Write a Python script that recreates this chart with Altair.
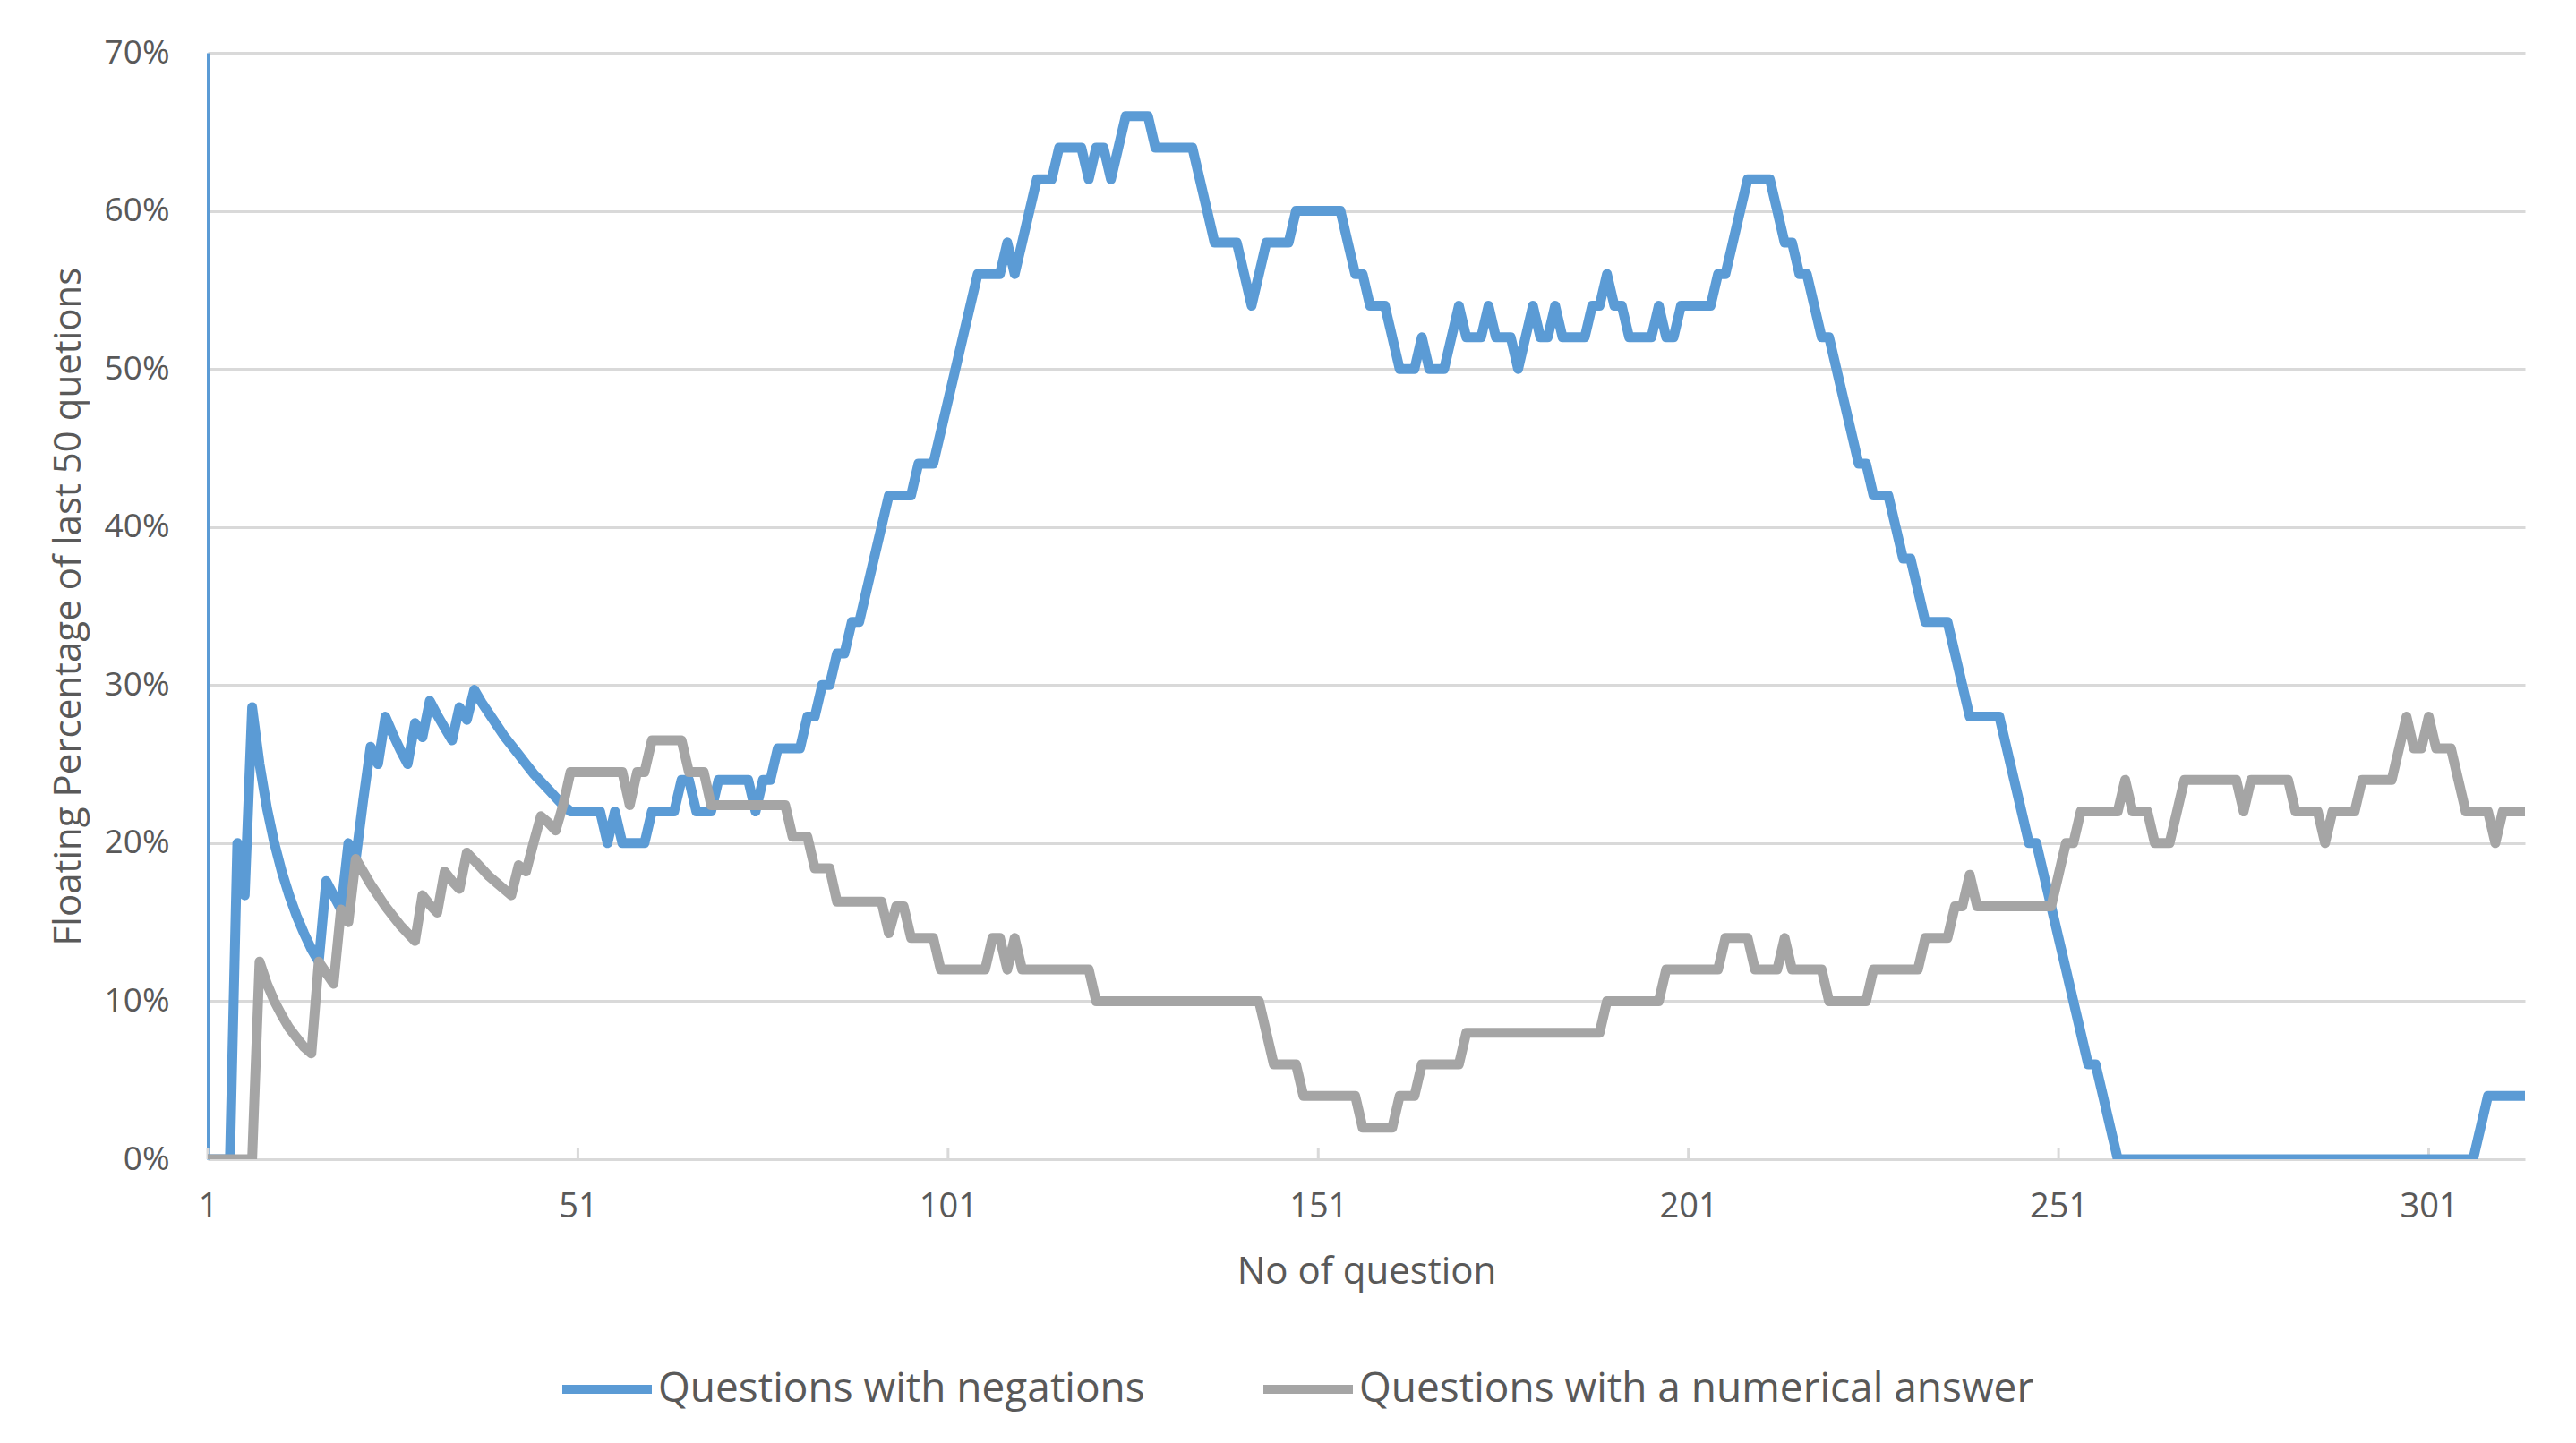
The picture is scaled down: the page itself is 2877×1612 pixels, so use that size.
import altair as alt
import pandas as pd

# ---------------- data ----------------
QUESTIONS = list(range(1, 315))

# Questions with negations (% of last 50 questions), q1..q314
NEGATIONS = [
    0, 0, 0, 0, 20.0, 16.7, 28.6, 25.0, 22.2, 20.0,           # 1-10
    18.2, 16.7, 15.4, 14.3, 13.3, 12.5, 17.6, 16.7, 15.8, 20.0,  # 11-20
    19.0, 22.7, 26.1, 25.0, 28.0, 26.9, 25.9, 25.0, 27.6, 26.7,  # 21-30
    29.0, 28.1, 27.3, 26.5, 28.6, 27.8, 29.7, 28.9, 28.2, 27.5,  # 31-40
    26.8, 26.2, 25.6, 25.0, 24.4, 23.9, 23.4, 22.9, 22.4, 22.0,  # 41-50
    22, 22, 22, 22, 20, 22, 20, 20, 20, 20,                      # 51-60
    22, 22, 22, 22, 24, 24, 22, 22, 22, 24,                      # 61-70
    24, 24, 24, 24, 22, 24, 24, 26, 26, 26,                      # 71-80
    26, 28, 28, 30, 30, 32, 32, 34, 34, 36,                      # 81-90
    38, 40, 42, 42, 42, 42, 44, 44, 44, 46,                      # 91-100
    48, 50, 52, 54, 56, 56, 56, 56, 58, 56,                      # 101-110
    58, 60, 62, 62, 62, 64, 64, 64, 64, 62,                      # 111-120
    64, 64, 62, 64, 66, 66, 66, 66, 64, 64,                      # 121-130
    64, 64, 64, 64, 62, 60, 58, 58, 58, 58,                      # 131-140
    56, 54, 56, 58, 58, 58, 58, 60, 60, 60,                      # 141-150
    60, 60, 60, 60, 58, 56, 56, 54, 54, 54,                      # 151-160
    52, 50, 50, 50, 52, 50, 50, 50, 52, 54,                      # 161-170
    52, 52, 52, 54, 52, 52, 52, 50, 52, 54,                      # 171-180
    52, 52, 54, 52, 52, 52, 52, 54, 54, 56,                      # 181-190
    54, 54, 52, 52, 52, 52, 54, 52, 52, 54,                      # 191-200
    54, 54, 54, 54, 56, 56, 58, 60, 62, 62,                      # 201-210
    62, 62, 60, 58, 58, 56, 56, 54, 52, 52,                      # 211-220
    50, 48, 46, 44, 44, 42, 42, 42, 40, 38,                      # 221-230
    38, 36, 34, 34, 34, 34, 32, 30, 28, 28,                      # 231-240
    28, 28, 28, 26, 24, 22, 20, 20, 18, 16,                      # 241-250
    14, 12, 10, 8, 6, 6, 4, 2, 0, 0,                             # 251-260
    0, 0, 0, 0, 0, 0, 0, 0, 0, 0,                                # 261-270
    0, 0, 0, 0, 0, 0, 0, 0, 0, 0,                                # 271-280
    0, 0, 0, 0, 0, 0, 0, 0, 0, 0,                                # 281-290
    0, 0, 0, 0, 0, 0, 0, 0, 0, 0,                                # 291-300
    0, 0, 0, 0, 0, 0, 0, 2, 4, 4,                                # 301-310
    4, 4, 4, 4,                                                  # 311-314
]

# Questions with a numerical answer (% of last 50 questions), q1..q314
NUMERICAL = [
    0, 0, 0, 0, 0, 0, 0, 12.5, 11.1, 10.0,                       # 1-10
    9.1, 8.3, 7.7, 7.1, 6.7, 12.5, 11.8, 11.1, 15.8, 15.0,       # 11-20
    19.0, 18.2, 17.4, 16.7, 16.0, 15.4, 14.8, 14.3, 13.8, 16.7,  # 21-30
    16.1, 15.6, 18.2, 17.6, 17.1, 19.4, 18.9, 18.4, 17.9, 17.5,  # 31-40
    17.1, 16.7, 18.6, 18.2, 20.0, 21.7, 21.3, 20.8, 22.4, 24.5,  # 41-50
    24.5, 24.5, 24.5, 24.5, 24.5, 24.5, 24.5, 22.4, 24.5, 24.5,  # 51-60
    26.5, 26.5, 26.5, 26.5, 26.5, 24.5, 24.5, 24.5, 22.4, 22.4,  # 61-70
    22.4, 22.4, 22.4, 22.4, 22.4, 22.4, 22.4, 22.4, 22.4, 20.4,  # 71-80
    20.4, 20.4, 18.4, 18.4, 18.4, 16.3, 16.3, 16.3, 16.3, 16.3,  # 81-90
    16.3, 16.3, 14.3, 16, 16, 14, 14, 14, 14, 12,                # 91-100
    12, 12, 12, 12, 12, 12, 14, 14, 12, 14,                      # 101-110
    12, 12, 12, 12, 12, 12, 12, 12, 12, 12,                      # 111-120
    10, 10, 10, 10, 10, 10, 10, 10, 10, 10,                      # 121-130
    10, 10, 10, 10, 10, 10, 10, 10, 10, 10,                      # 131-140
    10, 10, 10, 8, 6, 6, 6, 6, 4, 4,                             # 141-150
    4, 4, 4, 4, 4, 4, 2, 2, 2, 2,                                # 151-160
    2, 4, 4, 4, 6, 6, 6, 6, 6, 6,                                # 161-170
    8, 8, 8, 8, 8, 8, 8, 8, 8, 8,                                # 171-180
    8, 8, 8, 8, 8, 8, 8, 8, 8, 10,                               # 181-190
    10, 10, 10, 10, 10, 10, 10, 12, 12, 12,                      # 191-200
    12, 12, 12, 12, 12, 14, 14, 14, 14, 12,                      # 201-210
    12, 12, 12, 14, 12, 12, 12, 12, 12, 10,                      # 211-220
    10, 10, 10, 10, 10, 12, 12, 12, 12, 12,                      # 221-230
    12, 12, 14, 14, 14, 14, 16, 16, 18, 16,                      # 231-240
    16, 16, 16, 16, 16, 16, 16, 16, 16, 16,                      # 241-250
    18, 20, 20, 22, 22, 22, 22, 22, 22, 24,                      # 251-260
    22, 22, 22, 20, 20, 20, 22, 24, 24, 24,                      # 261-270
    24, 24, 24, 24, 24, 22, 24, 24, 24, 24,                      # 271-280
    24, 24, 22, 22, 22, 22, 20, 22, 22, 22,                      # 281-290
    22, 24, 24, 24, 24, 24, 26, 28, 26, 26,                      # 291-300
    28, 26, 26, 26, 24, 22, 22, 22, 22, 20,                      # 301-310
    22, 22, 22, 22,                                              # 311-314
]

SERIES = ["Questions with negations", "Questions with a numerical answer"]
COLORS = ["#5B9BD5", "#A5A5A5"]
X_TICKS = [1, 51, 101, 151, 201, 251, 301]
Y_TICKS = [0, 10, 20, 30, 40, 50, 60, 70]

assert len(NEGATIONS) == len(QUESTIONS), len(NEGATIONS)
assert len(NUMERICAL) == len(QUESTIONS), len(NUMERICAL)

df = pd.DataFrame({
    "q": QUESTIONS + QUESTIONS,
    "pct": NEGATIONS + NUMERICAL,
    "series": [SERIES[0]] * len(QUESTIONS) + [SERIES[1]] * len(QUESTIONS),
    "k": [0] * len(QUESTIONS) + [1] * len(QUESTIONS),
})
ticks_df = pd.DataFrame({"q": X_TICKS})

W, H = 2588, 1236
FONT = "Open Sans"
TXT = "#595959"
GRID = "#D9D9D9"

x_scale = alt.Scale(domain=[1, 314], nice=False, zero=False)
x_axis = alt.Axis(
    values=X_TICKS, grid=False, ticks=False, domain=False,
    labelFlush=False, labelFontSize=38, labelColor=TXT, labelFont=FONT,
    labelBaseline="alphabetic", labelPadding=64,
    title="No of question", titleFontSize=42, titleColor=TXT,
    titleFont=FONT, titleFontWeight="normal",
    titleBaseline="alphabetic", titleY=138,
)

lines = alt.Chart(df).mark_line(
    strokeWidth=11, strokeCap="round", strokeJoin="round", clip=True
).encode(
    x=alt.X("q:Q", scale=x_scale, axis=x_axis),
    y=alt.Y(
        "pct:Q",
        scale=alt.Scale(domain=[0, 70], nice=False),
        axis=alt.Axis(
            values=Y_TICKS, labelExpr="datum.value + '%'",
            grid=True, gridColor=GRID, gridWidth=3,
            ticks=False, domain=True, domainColor=COLORS[0], domainWidth=3,
            labelPadding=43, labelFontSize=37, labelColor=TXT, labelFont=FONT,
            title="Floating Percentage of last 50 quetions",
            titleFontSize=42, titleColor=TXT, titleFont=FONT,
            titleFontWeight="normal", titleAngle=270, titleX=-156,
            titleY=H / 2, titleAlign="center", titleBaseline="middle",
        ),
    ),
    color=alt.Color(
        "series:N",
        scale=alt.Scale(domain=SERIES, range=COLORS),
        legend=alt.Legend(
            orient="none", legendX=391, legendY=1438, direction="horizontal",
            title=None, symbolType="stroke", symbolSize=10000,
            symbolStrokeWidth=10, labelFontSize=46, labelFont=FONT,
            labelColor=TXT, columnPadding=112, labelOffset=2, padding=0,
            labelLimit=2000,
        ),
    ),
    order=alt.Order("k:Q"),
)

tick_marks = alt.Chart(ticks_df).mark_rule(color=GRID, strokeWidth=3).encode(
    x=alt.X("q:Q", scale=x_scale, axis=x_axis),
    y=alt.value(H - 13),
    y2=alt.value(H),
)

chart = alt.layer(tick_marks, lines).properties(
    width=W,
    height=H,
    autosize=alt.AutoSizeParams(type="none"),
    padding={"left": 224, "top": 51, "right": 49, "bottom": 300},
    background="white",
).configure_view(stroke=None)

chart.save("out.html", embed_options={"renderer": "svg", "actions": False})
